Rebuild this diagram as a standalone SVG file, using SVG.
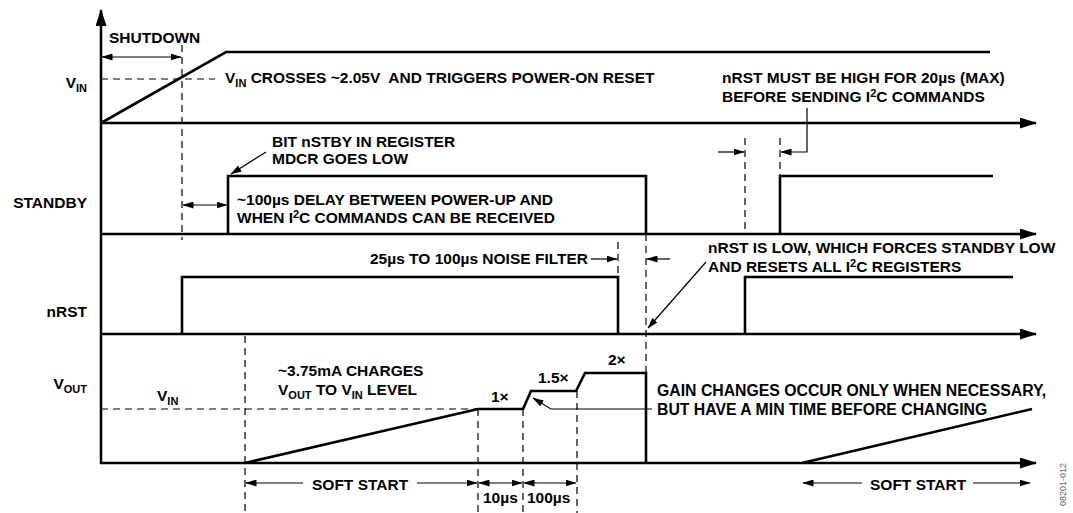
<svg xmlns="http://www.w3.org/2000/svg" width="1073" height="513" viewBox="0 0 1073 513">
<defs>
<style>
text{font-family:"Liberation Sans",Arial,sans-serif;font-weight:bold;font-size:15.5px;fill:#000}
.sub{font-size:11px}
.sup{font-size:11px}
.big{font-size:15.8px}
.ax{stroke:#000;stroke-width:2.5;fill:none}
.sig{stroke:#000;stroke-width:2.6;fill:none;stroke-linejoin:miter}
.dash{stroke:#000;stroke-width:1.2;fill:none;stroke-dasharray:7,5}
.arr{stroke:#000;stroke-width:1.2;fill:none}
.wm{font-size:9px;font-weight:normal;fill:#666}
</style>
<marker id="big" markerUnits="userSpaceOnUse" markerWidth="17" markerHeight="11" refX="16" refY="5.5" orient="auto">
<path d="M0,0 L17,5.5 L0,11 z" fill="#000"/>
</marker>
<marker id="ah" markerUnits="userSpaceOnUse" markerWidth="11" markerHeight="7" refX="10.5" refY="3.5" orient="auto-start-reverse">
<path d="M0,0 L11,3.5 L0,7 z" fill="#000"/>
</marker>
</defs>
<rect width="1073" height="513" fill="#fff"/>

<g id="axes">
<line class="ax" x1="101" y1="464" x2="101" y2="10" marker-end="url(#big)"/>
<line class="ax" x1="100" y1="123" x2="1036" y2="123" marker-end="url(#big)"/>
<line class="ax" x1="100" y1="234" x2="1036" y2="234" marker-end="url(#big)"/>
<line class="ax" x1="100" y1="334" x2="1036" y2="334" marker-end="url(#big)"/>
<line class="ax" x1="100" y1="463" x2="1036" y2="463" marker-end="url(#big)"/>
</g>

<g id="labels">
<text x="87" y="88" text-anchor="end">V<tspan class="sub" dy="4">IN</tspan></text>
<text x="87" y="208" text-anchor="end">STANDBY</text>
<text x="87" y="317" text-anchor="end">nRST</text>
<text x="87" y="389" text-anchor="end">V<tspan class="sub" dy="4">OUT</tspan></text>
</g>

<g id="vin">
<polyline class="sig" points="101,123 226,52 990,52"/>
</g>
<g id="standby">
<polyline class="sig" points="228,234 228,176 646,176 646,234"/>
<polyline class="sig" points="780,234 780,176 993,176"/>
</g>
<g id="nrst">
<polyline class="sig" points="182,334 182,277 618,277 618,334"/>
<polyline class="sig" points="745,334 745,277 1013,277"/>
</g>
<g id="vout">
<polyline class="sig" points="245,463 478,409 523,409 531,391 576,391 585,373 646,373 646,463"/>
<polyline class="sig" points="802,463 1032,409"/>
</g>

<g id="connectors">
<line class="dash" x1="101" y1="79" x2="215" y2="79"/>
<line class="dash" x1="182" y1="45" x2="182" y2="240"/>
<line class="dash" x1="245" y1="336" x2="245" y2="513"/>
<line class="dash" x1="101" y1="409" x2="478" y2="409"/>
<line class="dash" x1="478" y1="409" x2="478" y2="513"/>
<line class="dash" x1="523" y1="409" x2="523" y2="513"/>
<line class="dash" x1="577" y1="391" x2="577" y2="513"/>
<line class="dash" x1="618" y1="242" x2="618" y2="277"/>
<line class="dash" x1="646" y1="234" x2="646" y2="373"/>
<line class="dash" x1="745" y1="138" x2="745" y2="234"/>
<line class="dash" x1="780" y1="138" x2="780" y2="176"/>

<line class="arr" x1="102" y1="57" x2="181" y2="57" marker-start="url(#ah)" marker-end="url(#ah)"/>
<line class="arr" x1="183" y1="205" x2="227" y2="205" marker-start="url(#ah)" marker-end="url(#ah)"/>
<line class="arr" x1="266" y1="152" x2="231" y2="174" marker-end="url(#ah)"/>
<line class="arr" x1="591" y1="259" x2="617" y2="259" marker-end="url(#ah)"/>
<line class="arr" x1="670" y1="259" x2="647" y2="259" marker-end="url(#ah)"/>
<line class="arr" x1="706" y1="262" x2="648" y2="328" marker-end="url(#ah)"/>
<line class="arr" x1="718" y1="152" x2="744" y2="152" marker-end="url(#ah)"/>
<polyline class="arr" points="807,108 807,152 781,152" marker-end="url(#ah)"/>
<polyline class="arr" points="652,409 551,409 533,398" marker-end="url(#ah)"/>

<line class="arr" x1="303" y1="483" x2="246" y2="483" marker-end="url(#ah)"/>
<line class="arr" x1="417" y1="483" x2="477" y2="483" marker-end="url(#ah)"/>
<line class="arr" x1="479" y1="483" x2="522" y2="483" marker-start="url(#ah)" marker-end="url(#ah)"/>
<line class="arr" x1="524" y1="483" x2="576" y2="483" marker-start="url(#ah)" marker-end="url(#ah)"/>
<line class="arr" x1="862" y1="483" x2="803" y2="483" marker-end="url(#ah)"/>
<line class="arr" x1="973" y1="483" x2="1030" y2="483" marker-end="url(#ah)"/>
</g>

<g id="annotations">
<text x="109" y="43">SHUTDOWN</text>
<text x="225" y="83" style="white-space:pre">V<tspan class="sub" dy="4">IN</tspan><tspan dy="-4"> CROSSES ~2.05V  AND TRIGGERS POWER-ON RESET</tspan></text>
<text x="722" y="83">nRST MUST BE HIGH FOR 20µs (MAX)</text>
<text x="722" y="102">BEFORE SENDING I<tspan class="sup" dy="-5">2</tspan><tspan dy="5">C COMMANDS</tspan></text>
<text x="272" y="147">BIT nSTBY IN REGISTER</text>
<text x="272" y="164">MDCR GOES LOW</text>
<text x="237" y="205">~100µs DELAY BETWEEN POWER-UP AND</text>
<text x="237" y="223">WHEN I<tspan class="sup" dy="-5">2</tspan><tspan dy="5">C COMMANDS CAN BE RECEIVED</tspan></text>
<text x="588" y="264" text-anchor="end">25µs TO 100µs NOISE FILTER</text>
<text x="708" y="253">nRST IS LOW, WHICH FORCES STANDBY LOW</text>
<text x="708" y="272">AND RESETS ALL I<tspan class="sup" dy="-5">2</tspan><tspan dy="5">C REGISTERS</tspan></text>
<text x="157" y="401">V<tspan class="sub" dy="4">IN</tspan></text>
<text x="278" y="376">~3.75mA CHARGES</text>
<text x="278" y="395">V<tspan class="sub" dy="4">OUT</tspan><tspan dy="-4"> TO V</tspan><tspan class="sub" dy="4">IN</tspan><tspan dy="-4"> LEVEL</tspan></text>
<text x="491" y="402">1×</text>
<text x="538" y="383">1.5×</text>
<text x="608" y="365">2×</text>
<text class="big" x="657" y="396">GAIN CHANGES OCCUR ONLY WHEN NECESSARY,</text>
<text class="big" x="657" y="415">BUT HAVE A MIN TIME BEFORE CHANGING</text>
<text x="312" y="490">SOFT START</text>
<text x="483" y="503">10µs</text>
<text x="527" y="503">100µs</text>
<text x="870" y="490">SOFT START</text>
<text class="wm" x="1066" y="463" text-anchor="end" transform="rotate(-90 1066 463)">08201-012</text>
</g>
</svg>
